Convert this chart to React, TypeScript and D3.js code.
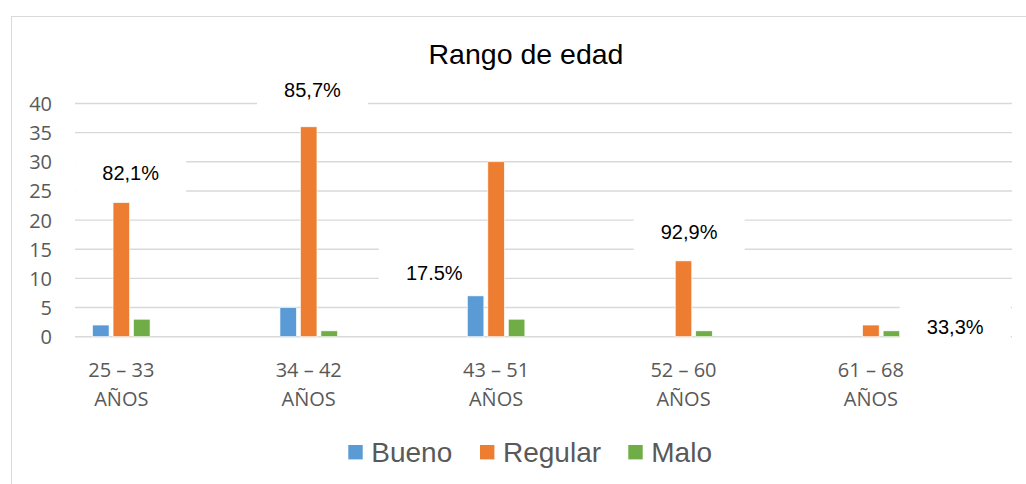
import React from "react";
import * as d3 from "d3";

const categories = ["25 – 33 AÑOS", "34 – 42 AÑOS", "43 – 51 AÑOS", "52 – 60 AÑOS", "61 – 68 AÑOS"];
const seriesNames = ["Bueno", "Regular", "Malo"];
const bueno = [2, 5, 7, 0, 0];
const regular = [23, 36, 30, 13, 2];
const malo = [3, 1, 3, 1, 1];
const yTicks = [0, 5, 10, 15, 20, 25, 30, 35, 40];
const colors = ["#5b9bd5", "#ed7d31", "#70ad47"];

// percentage annotations: category index, fractional offset within band, y value (data units)
const annotations = [
  { text: "82,1%", cat: 0, bandOffset: 0.05, yValue: 28.1 },
  { text: "85,7%", cat: 1, bandOffset: 0.02, yValue: 42.3 },
  { text: "17.5%", cat: 2, bandOffset: -0.33, yValue: 10.9 },
  { text: "92,9%", cat: 3, bandOffset: 0.03, yValue: 17.9 },
  { text: "33,3%", cat: 4, bandOffset: 0.45, yValue: 1.6 },
];

export default function App() {
  const W = 1026, H = 484;
  const gridLeft = 75, gridRight = 1012;
  const y = d3.scaleLinear().domain([0, 40]).range([336.7, 103.5]);
  const x = d3.scaleBand<string>().domain(categories).range([27.6, 964.6]);
  const inner = d3.scaleBand<string>().domain(seriesNames).range([-28.75, 28.75]).paddingInner(0.195);
  const seriesValues = [bueno, regular, malo];
  const center = (i: number) => (x(categories[i]) as number) + x.bandwidth() / 2;
  const axisFont = "'Open Sans', sans-serif";
  const labelFont = "'Liberation Sans', Arial, sans-serif";

  const legendItems = [
    { name: "Bueno", sq: 348.3 },
    { name: "Regular", sq: 480 },
    { name: "Malo", sq: 628.3 },
  ];

  return (
    <svg width={W} height={H} style={{ position: "absolute", left: 0, top: 0, background: "#fff" }}>
      <rect x={0} y={0} width={W} height={H} fill="#fff" />
      <rect x={11.5} y={16.5} width={W + 10} height={H + 10} fill="#fff" stroke="#d9d9d9" strokeWidth={1} />
      <text x={526} y={54} textAnchor="middle" dominantBaseline="central" fontFamily={labelFont} fontSize={28.5} fill="#000">
        Rango de edad
      </text>
      {yTicks.map((t) => (
        <g key={t}>
          <line x1={gridLeft} x2={gridRight} y1={y(t)} y2={y(t)} stroke="#d9d9d9" strokeWidth={1.4} />
          <text x={52} y={y(t)} textAnchor="end" dominantBaseline="central" fontFamily={axisFont} fontSize={20} fill="#595959">
            {t}
          </text>
        </g>
      ))}
      {annotations.map((a) => {
        const cx = center(a.cat) + a.bandOffset * x.bandwidth();
        const cy = y(a.yValue);
        return <rect key={"bg" + a.text} x={cx - 55.5} y={cy - 26} width={111} height={52} fill="#fff" />;
      })}
      {seriesValues.map((vals, si) =>
        vals.map((v, ci) => {
          if (v <= 0) return null;
          const bx = center(ci) + (inner(seriesNames[si]) as number);
          return (
            <rect
              key={si + "-" + ci}
              x={bx}
              y={y(v)}
              width={inner.bandwidth()}
              height={y(0) - y(v)}
              fill={colors[si]}
              stroke="#fff"
              strokeWidth={0.6}
            />
          );
        })
      )}
      {annotations.map((a) => {
        const cx = center(a.cat) + a.bandOffset * x.bandwidth();
        const cy = y(a.yValue);
        return (
          <text key={a.text} x={cx} y={cy} textAnchor="middle" dominantBaseline="central" fontFamily={labelFont} fontSize={20} fill="#000">
            {a.text}
          </text>
        );
      })}
      {categories.map((c, i) => {
        const parts = c.split(" AÑOS");
        return (
          <g key={c}>
            <text x={center(i)} y={369} textAnchor="middle" dominantBaseline="central" fontFamily={axisFont} fontSize={20} fill="#595959">
              {parts[0]}
            </text>
            <text x={center(i)} y={398} textAnchor="middle" dominantBaseline="central" fontFamily={axisFont} fontSize={20} fill="#595959">
              AÑOS
            </text>
          </g>
        );
      })}
      {legendItems.map((l, i) => (
        <g key={l.name}>
          <rect x={l.sq} y={445} width={14.4} height={14.4} fill={colors[i]} />
          <text x={l.sq + 23} y={452} dominantBaseline="central" fontFamily={labelFont} fontSize={28} fill="#595959">
            {l.name}
          </text>
        </g>
      ))}
    </svg>
  );
}
